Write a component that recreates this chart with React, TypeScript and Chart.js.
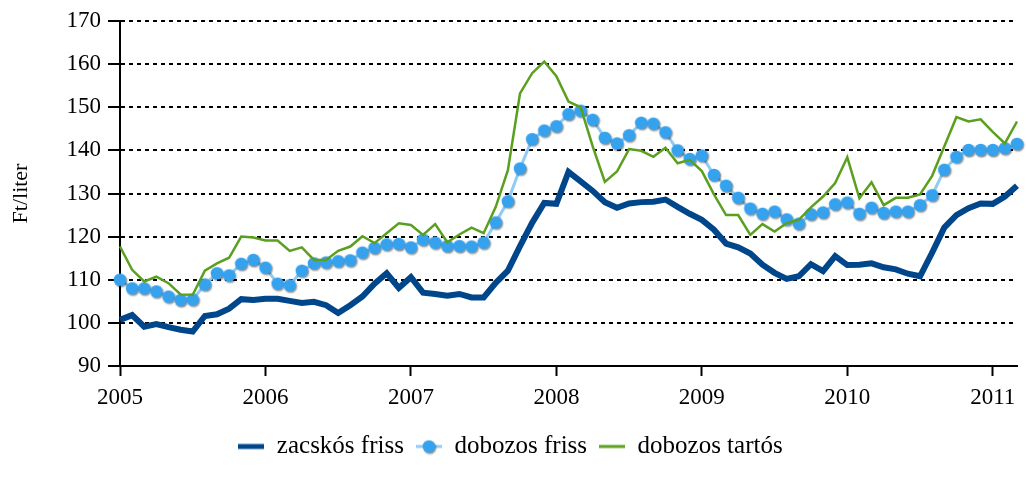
import React, { useEffect, useRef } from 'react';
import { Chart, registerables } from 'chart.js';

Chart.register(...registerables);

// ---- Data (monthly, Jan 2005 – Mar 2011) ----
const years = ['2005', '2006', '2007', '2008', '2009', '2010', '2011'];
const monthNums = ['01', '02', '03', '04', '05', '06', '07', '08', '09', '10', '11', '12'];
const categories: string[] = years.flatMap((y) => monthNums.map((m) => `${y}-${m}`)).slice(0, 75);

const seriesNames = ['zacskós friss', 'dobozos friss', 'dobozos tartós'];

const zacskosFriss = [
  100.7, 101.8, 99.1, 99.7, 99.0, 98.4, 98.0, 101.6, 102.0, 103.3, 105.5, 105.3,
  105.6, 105.6, 105.1, 104.6, 104.9, 104.1, 102.3, 104.1, 106.1, 109.1, 111.5, 108.1,
  110.6, 107.0, 106.7, 106.3, 106.7, 105.9, 105.9, 109.3, 112.1, 117.8, 123.2, 127.8,
  127.6, 135.0, 132.8, 130.6, 128.0, 126.7, 127.7, 128.0, 128.1, 128.6, 126.9, 125.3,
  123.9, 121.6, 118.4, 117.5, 116.1, 113.5, 111.6, 110.2, 110.8, 113.6, 112.0, 115.5,
  113.4, 113.5, 113.8, 112.9, 112.4, 111.4, 110.8, 116.3, 122.1, 125.0, 126.6, 127.7,
  127.6, 129.3, 131.8,
];

const dobozosFriss = [
  110.0, 108.0, 108.0, 107.3, 106.1, 105.3, 105.4, 108.9, 111.5, 111.0, 113.7, 114.6,
  112.8, 109.1, 108.7, 112.1, 113.8, 114.0, 114.3, 114.5, 116.3, 117.4, 118.2, 118.3,
  117.5, 119.3, 118.6, 117.8, 117.8, 117.7, 118.6, 123.3, 128.2, 135.8, 142.6, 144.6,
  145.6, 148.4, 149.2, 147.1, 142.9, 141.6, 143.5, 146.4, 146.2, 144.2, 140.0, 138.0,
  138.8, 134.3, 131.8, 129.0, 126.5, 125.3, 125.8, 124.0, 123.0, 125.2, 125.6, 127.5,
  127.9, 125.3, 126.7, 125.5, 125.8, 125.8, 127.3, 129.6, 135.5, 138.5, 140.1, 140.1,
  140.1, 140.5, 141.5,
];

const dobozosTartos = [
  117.7, 112.3, 109.6, 110.7, 109.2, 106.6, 106.5, 112.1, 113.8, 115.1, 120.0, 119.8,
  119.1, 119.1, 116.7, 117.5, 114.6, 114.6, 116.7, 117.7, 120.1, 118.5, 120.8, 123.1,
  122.7, 120.4, 122.9, 118.7, 120.5, 122.1, 120.8, 126.9, 135.4, 153.2, 157.9, 160.6,
  157.2, 151.3, 150.0, 140.9, 132.7, 135.1, 140.3, 139.9, 138.5, 140.6, 137.0, 137.8,
  135.2, 129.8, 125.0, 125.0, 120.4, 122.9, 121.2, 123.1, 123.9, 126.8, 129.3, 132.4,
  138.4, 128.9, 132.6, 127.3, 129.0, 129.0, 129.8, 134.1, 140.9, 147.7, 146.7, 147.2,
  144.3, 141.6, 146.7,
];

const yMin = 90;
const yMax = 170;
const yStep = 10;
const yTitle = 'Ft/liter';

const COLORS = {
  navy: '#00468B',
  dot: '#36A2EE',
  dotLine: '#8FCBF4',
  green: '#5B9F1F',
};

const FONT = "'Liberation Serif', 'Times New Roman', serif";

function makeDot(): HTMLCanvasElement {
  const c = document.createElement('canvas');
  c.width = 18;
  c.height = 18;
  const g = c.getContext('2d')!;
  g.shadowColor = 'rgba(0,0,0,0.45)';
  g.shadowOffsetX = 1;
  g.shadowOffsetY = 1.3;
  g.shadowBlur = 1.5;
  g.fillStyle = COLORS.dot;
  g.beginPath();
  g.arc(9, 9, 6.3, 0, Math.PI * 2);
  g.fill();
  return c;
}

function makeLegendIcon(color: string, width: number, dot?: HTMLCanvasElement): HTMLCanvasElement {
  const c = document.createElement('canvas');
  c.width = 26;
  c.height = 18;
  const g = c.getContext('2d')!;
  g.strokeStyle = color;
  g.lineWidth = width;
  g.beginPath();
  g.moveTo(0, 9);
  g.lineTo(26, 9);
  g.stroke();
  if (dot) g.drawImage(dot, 4, 0);
  return c;
}

export default function App() {
  const ref = useRef<HTMLCanvasElement | null>(null);

  useEffect(() => {
    const prevMargin = document.body.style.margin;
    document.body.style.margin = '0';
    if (!ref.current) return;
    const dot = makeDot();
    const icons = [
      makeLegendIcon(COLORS.navy, 5),
      makeLegendIcon(COLORS.dotLine, 3, dot),
      makeLegendIcon(COLORS.green, 3),
    ];

    const chart = new Chart(ref.current, {
      type: 'line',
      data: {
        labels: categories,
        datasets: [
          {
            label: seriesNames[0],
            data: zacskosFriss,
            borderColor: COLORS.navy,
            backgroundColor: COLORS.navy,
            borderWidth: 6,
            pointRadius: 0,
            tension: 0,
            order: 3,
            clip: false as any,
          },
          {
            label: seriesNames[1],
            data: dobozosFriss,
            borderColor: COLORS.dotLine,
            backgroundColor: COLORS.dot,
            borderWidth: 3,
            pointRadius: 6,
            pointStyle: dot as any,
            tension: 0,
            order: 2,
            clip: false as any,
          },
          {
            label: seriesNames[2],
            data: dobozosTartos,
            borderColor: COLORS.green,
            backgroundColor: COLORS.green,
            borderWidth: 2.5,
            pointRadius: 0,
            tension: 0,
            order: 1,
            clip: false as any,
          },
        ],
      },
      options: {
        responsive: false,
        animation: false,
        devicePixelRatio: 1,
        layout: { padding: { top: 21, right: 5, bottom: 18, left: 0 } },
        plugins: {
          tooltip: { enabled: false },
          legend: {
            display: true,
            position: 'bottom',
            labels: {
              usePointStyle: true,
              pointStyleWidth: 26,
              padding: 12,
              color: '#000',
              font: { family: FONT, size: 25 },
              sort: (a: any, b: any) => a.datasetIndex - b.datasetIndex,
              generateLabels: (ch: any) => {
                const items = (Chart.defaults.plugins.legend.labels as any).generateLabels(ch);
                return items.map((it: any) => ({ ...it, pointStyle: icons[it.datasetIndex] }));
              },
            },
          },
        },
        scales: {
          x: {
            type: 'category',
            offset: false,
            afterFit: (s: any) => {
              s.height = 56;
            },
            grid: {
              display: true,
              drawOnChartArea: false,
              drawTicks: true,
              tickLength: 10,
              tickWidth: 2,
              tickColor: (ctx: any) => (ctx.index % 12 === 0 ? '#000' : 'rgba(0,0,0,0)'),
            },
            border: { display: true, color: '#000', width: 2 },
            ticks: {
              autoSkip: false,
              maxRotation: 0,
              minRotation: 0,
              padding: 8,
              color: '#000',
              font: { family: FONT, size: 23 },
              callback: (_v: any, i: number) => (i % 12 === 0 ? categories[i].slice(0, 4) : ''),
            },
          },
          y: {
            min: yMin,
            max: yMax,
            afterFit: (s: any) => {
              s.width = 120;
            },
            ticks: {
              stepSize: yStep,
              padding: 7,
              color: '#000',
              font: { family: FONT, size: 23 },
            },
            grid: {
              display: true,
              drawOnChartArea: true,
              drawTicks: true,
              color: '#000',
              lineWidth: 2,
              tickLength: 12,
              tickWidth: 2,
              tickColor: '#000',
              tickBorderDash: [],
            },
            border: { display: true, color: '#000', width: 2, dash: [4, 4] },
            title: {
              display: true,
              text: yTitle,
              color: '#000',
              font: { family: FONT, size: 22 },
              padding: { top: 8, bottom: 0 },
            },
          },
        },
      },
    });

    return () => {
      chart.destroy();
      document.body.style.margin = prevMargin;
    };
  }, []);

  return (
    <div style={{ position: 'fixed', left: 0, top: 0, width: 1026, height: 487, background: '#fff' }}>
      <canvas ref={ref} width={1026} height={487} style={{ display: 'block' }} />
    </div>
  );
}
